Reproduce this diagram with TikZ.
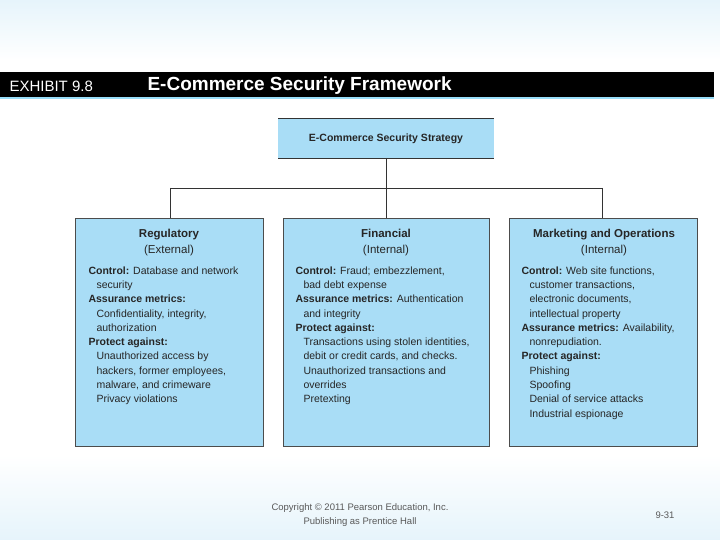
\documentclass[tikz,border=0pt]{standalone}
\usepackage{fontspec}
\setmainfont{Liberation Sans}
\begin{document}
\begin{tikzpicture}[x=1pt,y=-1pt,
  box/.style={draw=black!70,line width=0.7pt,fill=boxblue},
  ttl/.style={anchor=north,font=\fontsize{11.5}{13}\selectfont\bfseries,text=black!85},
  sub/.style={anchor=north,font=\fontsize{11.5}{13}\selectfont,text=black!85},
  body/.style={anchor=north west,align=left,font=\fontsize{10.5}{14.3}\selectfont,text=black!85},
  conn/.style={draw=black!80,line width=0.6pt}]
\definecolor{boxblue}{HTML}{A9DDF6}
\definecolor{pale}{HTML}{E6F4FB}
\useasboundingbox (0,0) rectangle (720,540);
\fill[white] (0,0) rectangle (720,540);
\fill[top color=pale,bottom color=white] (0,0) rectangle (720,60);
\fill[top color=white,bottom color=pale] (0,455) rectangle (720,540);
% header bar
\fill[black] (0,72) rectangle (714,97);
\fill[cyan!40] (0,97) rectangle (714,99.5);
\node[anchor=west,text=white,font=\fontsize{15}{15}\selectfont] (ex) at (6,86) {EXHIBIT 9.8};
\node[anchor=west,text=white,font=\fontsize{19}{19}\selectfont\bfseries] (hd) at (144,86) {E-Commerce Security Framework};
% strategy box
\fill[boxblue] (278,118) rectangle (494,158);
\draw[black!80,line width=0.7pt] (278,118) -- (494,118) (278,158) -- (494,158);
\node[font=\fontsize{10.5}{12}\selectfont\bfseries,text=black!85] (s) at (386,139) {E-Commerce Security Strategy};
\coordinate (sb) at (386,158);
\coordinate (j) at (386,188);
\coordinate (jl) at (170,188);
\coordinate (jr) at (602,188);
% boxes
\draw[box] (75,218) rectangle (263,446);
\draw[box] (283,218) rectangle (489,446);
\draw[box] (509,218) rectangle (697,446);
\coordinate (rt) at (170,218);
\coordinate (ft) at (386,218);
\coordinate (mt) at (602,218);
\draw[conn] (sb) -- (j);
\draw[conn] (jl) -- (jr);
\draw[conn] (jl) -- (rt);
\draw[conn] (j) -- (ft);
\draw[conn] (jr) -- (mt);
% regulatory
\node[ttl] (r1) at (169,226) {Regulatory};
\node[sub] (r2) at (169,242) {(External)};
\node[body] (rb) at (85,263) {\textbf{Control:} Database and network\\
\hspace*{8pt}security\\
\textbf{Assurance metrics:}\\
\hspace*{8pt}Confidentiality, integrity,\\
\hspace*{8pt}authorization\\
\textbf{Protect against:}\\
\hspace*{8pt}Unauthorized access by\\
\hspace*{8pt}hackers, former employees,\\
\hspace*{8pt}malware, and crimeware\\
\hspace*{8pt}Privacy violations};
% financial
\node[ttl] (f1) at (386,226) {Financial};
\node[sub] (f2) at (386,242) {(Internal)};
\node[body] (fb) at (292,263) {\textbf{Control:} Fraud; embezzlement,\\
\hspace*{8pt}bad debt expense\\
\textbf{Assurance metrics:} Authentication\\
\hspace*{8pt}and integrity\\
\textbf{Protect against:}\\
\hspace*{8pt}Transactions using stolen identities,\\
\hspace*{8pt}debit or credit cards, and checks.\\
\hspace*{8pt}Unauthorized transactions and\\
\hspace*{8pt}overrides\\
\hspace*{8pt}Pretexting};
% marketing
\node[ttl] (m1) at (604,226) {Marketing and Operations};
\node[sub] (m2) at (604,242) {(Internal)};
\node[body] (mb) at (518,263) {\textbf{Control:} Web site functions,\\
\hspace*{8pt}customer transactions,\\
\hspace*{8pt}electronic documents,\\
\hspace*{8pt}intellectual property\\
\textbf{Assurance metrics:} Availability,\\
\hspace*{8pt}nonrepudiation.\\
\textbf{Protect against:}\\
\hspace*{8pt}Phishing\\
\hspace*{8pt}Spoofing\\
\hspace*{8pt}Denial of service attacks\\
\hspace*{8pt}Industrial espionage};
% footer
\node[align=center,text=black!65,font=\fontsize{9.5}{14}\selectfont] (cp) at (360,515) {Copyright © 2011 Pearson Education, Inc.\\Publishing as Prentice Hall};
\node[text=black!65,font=\fontsize{9.5}{12}\selectfont] (pg) at (665,515) {9-31};
\end{tikzpicture}
\end{document}
